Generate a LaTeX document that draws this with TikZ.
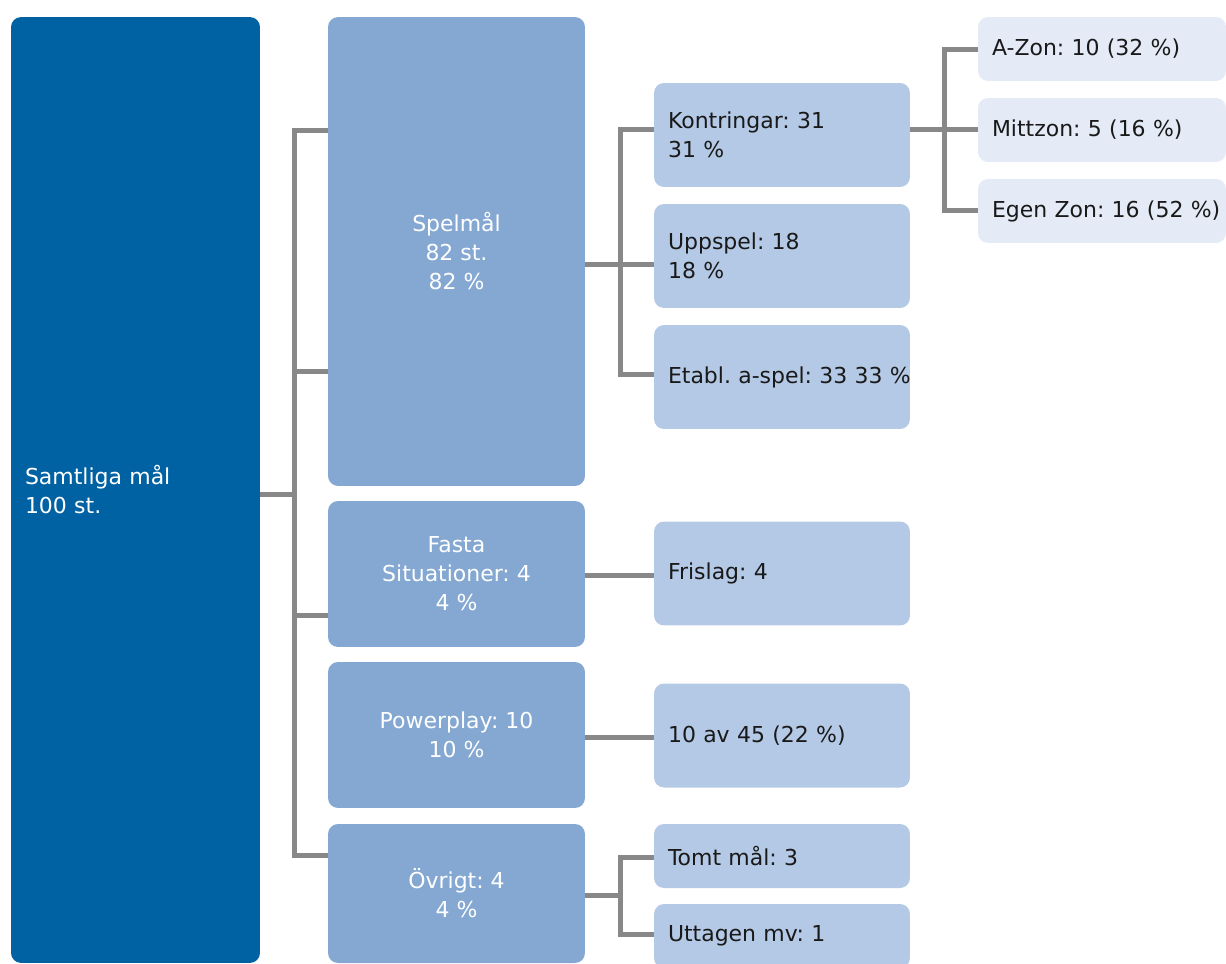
\documentclass[tikz,border=0pt]{standalone}
\usepackage{fontspec}
\setmainfont{DejaVu Sans}
\frenchspacing
\definecolor{rootblue}{HTML}{0062A3}
\definecolor{onefill}{HTML}{84A8D2}
\definecolor{twofill}{HTML}{B4C9E5}
\definecolor{threefill}{HTML}{E4EBF6}
\definecolor{linegray}{HTML}{888888}
\tikzset{
  box/.style={rounded corners=0.2cm, inner xsep=0.28cm, inner ysep=0pt,
    font=\fontsize{12.5}{16.5}\selectfont},
  rootbox/.style={box, fill=rootblue, text=white, minimum width=4.98cm,
    text width=4.42cm, align=left},
  lvlone/.style={box, fill=onefill, text=white, minimum width=5.14cm, align=center},
  lvltwo/.style={box, fill=twofill, text=black!90, minimum width=5.12cm,
    text width=4.56cm, align=left, minimum height=2.08cm},
  lvlthree/.style={box, fill=threefill, text=black!90, minimum width=4.96cm,
    text width=4.40cm, align=left, minimum height=1.28cm},
  conn/.style={draw=linegray, line width=0.1cm}
}
\begin{document}
\begin{tikzpicture}[x=0.02cm, y=-0.02cm]
\useasboundingbox (0,0) rectangle (1226,963);
\node[rootbox, minimum height=18.92cm] (root) at (135.5,490) {Samtliga mål\\100 st.};
\node[lvlone, minimum height=9.38cm] (spel) at (456.5,251.5) {Spelmål\\82 st.\\82 \%};
\node[lvlone, minimum height=2.92cm] (fasta) at (456.5,574) {Fasta\\Situationer: 4\\4 \%};
\node[lvlone, minimum height=2.92cm] (pp) at (456.5,735) {Powerplay: 10\\10 \%};
\node[lvlone, minimum height=2.78cm] (ovr) at (456.5,893.5) {Övrigt: 4\\4 \%};
\node[lvltwo] (kontr) at (782,135) {Kontringar: 31\\31 \%};
\node[lvltwo] (upp) at (782,256) {Uppspel: 18\\18 \%};
\node[lvltwo] (etabl) at (782,377) {\mbox{Etabl. a-spel: 33 33 \%}};
\node[lvltwo] (fri) at (782,573.5) {Frislag: 4};
\node[lvltwo] (tio) at (782,735.5) {10 av 45 (22 \%)};
\node[lvltwo, minimum height=1.28cm] (tomt) at (782,856) {Tomt mål: 3};
\node[lvltwo, minimum height=1.28cm] (utt) at (782,936) {Uttagen mv: 1};
\node[lvlthree] (azon) at (1102,49) {A-Zon: 10 (32 \%)};
\node[lvlthree] (mitt) at (1102,130) {Mittzon: 5 (16 \%)};
\node[lvlthree] (egen) at (1102,211) {\mbox{Egen Zon: 16 (52 \%)}};
\coordinate (busa) at (294,494);
\coordinate (busb) at (620,264);
\coordinate (busc) at (944,129);
\coordinate (busd) at (620,895);
\draw[conn] (root.east |- busa) -- (busa);
\draw[conn] (spel.west |- 0,130) -| (294,855) -- (ovr.west |- 0,855);
\draw[conn] (294,371) -- (spel.west |- 0,371);
\draw[conn] (294,615) -- (fasta.west |- 0,615);
\draw[conn] (spel.east |- busb) -- (upp.west |- busb);
\draw[conn] (kontr.west |- 0,129) -| (620,374) -- (etabl.west |- 0,374);
\draw[conn] (kontr.east |- busc) -- (mitt.west |- busc);
\draw[conn] (azon.west |- 0,50) -| (944,210) -- (egen.west |- 0,210);
\draw[conn] (fasta.east |- 0,575) -- (fri.west |- 0,575);
\draw[conn] (pp.east |- 0,737) -- (tio.west |- 0,737);
\draw[conn] (ovr.east |- busd) -- (busd);
\draw[conn] (tomt.west |- 0,857) -| (620,934) -- (utt.west |- 0,934);
\end{tikzpicture}
\end{document}
